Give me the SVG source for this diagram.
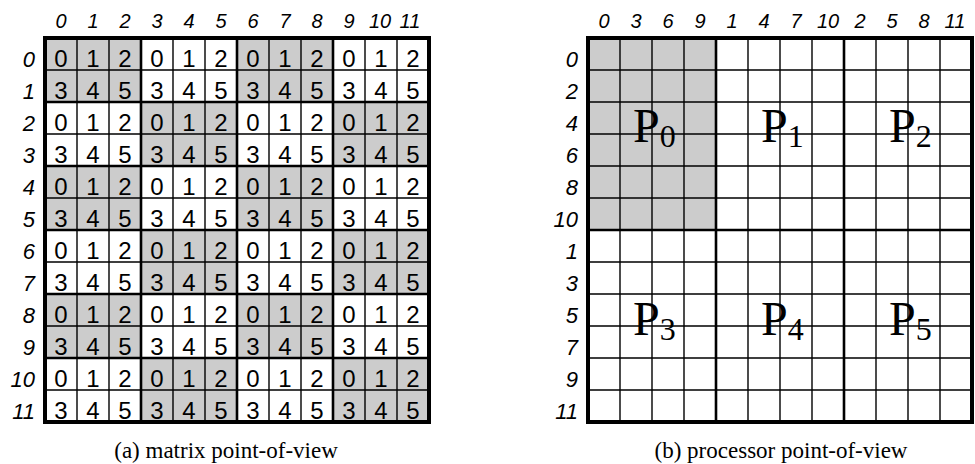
<svg xmlns="http://www.w3.org/2000/svg" width="975" height="464" viewBox="0 0 975 464">
<style>
.bg{fill:#ffffff}
.shade{fill:#cccccc}
.thin{stroke:#000;stroke-width:1.4;fill:none}
.blk{stroke:#000;stroke-width:2.6;fill:none}
.border{stroke:#000;stroke-width:4;fill:none}
.colh{font-family:"Liberation Sans",Arial,sans-serif;font-style:italic;font-size:20px;text-anchor:middle;fill:#000}
.rowh{font-family:"Liberation Sans",Arial,sans-serif;font-style:italic;font-size:22px;text-anchor:end;fill:#000}
.cell{font-family:"Liberation Sans",Arial,sans-serif;font-size:24px;text-anchor:middle;fill:#000}
.proc{font-family:"Liberation Serif","Times New Roman",serif;font-size:48px;fill:#000}
.cap{font-family:"Liberation Serif","Times New Roman",serif;font-size:23px;text-anchor:middle;fill:#000}
</style>
<rect class="bg" x="0" y="0" width="975" height="464"/>

<g id="matrix-view">
  <g id="matrix-shading">
    <rect class="shade" x="45" y="38" width="96" height="64"/>
    <rect class="shade" x="237" y="38" width="96" height="64"/>
    <rect class="shade" x="141" y="102" width="96" height="64"/>
    <rect class="shade" x="333" y="102" width="96" height="64"/>
    <rect class="shade" x="45" y="166" width="96" height="64"/>
    <rect class="shade" x="237" y="166" width="96" height="64"/>
    <rect class="shade" x="141" y="230" width="96" height="64"/>
    <rect class="shade" x="333" y="230" width="96" height="64"/>
    <rect class="shade" x="45" y="294" width="96" height="64"/>
    <rect class="shade" x="237" y="294" width="96" height="64"/>
    <rect class="shade" x="141" y="358" width="96" height="64"/>
    <rect class="shade" x="333" y="358" width="96" height="64"/>
  </g>
  <g id="matrix-lines">
    <path class="thin" d="M77 38V422M109 38V422M173 38V422M205 38V422M269 38V422M301 38V422M365 38V422M397 38V422M45 70H429M45 134H429M45 198H429M45 262H429M45 326H429M45 390H429"/>
    <path class="blk" d="M141 38V422M237 38V422M333 38V422M45 102H429M45 166H429M45 230H429M45 294H429M45 358H429"/>
    <rect class="border" x="45" y="38" width="384" height="384"/>
  </g>
  <g id="matrix-col-labels">
    <text class="colh" x="61" y="28">0</text>
    <text class="colh" x="93" y="28">1</text>
    <text class="colh" x="125" y="28">2</text>
    <text class="colh" x="157" y="28">3</text>
    <text class="colh" x="189" y="28">4</text>
    <text class="colh" x="221" y="28">5</text>
    <text class="colh" x="253" y="28">6</text>
    <text class="colh" x="285" y="28">7</text>
    <text class="colh" x="317" y="28">8</text>
    <text class="colh" x="349" y="28">9</text>
    <text class="colh" x="380" y="28">10</text>
    <text class="colh" x="410" y="28">11</text>
  </g>
  <g id="matrix-row-labels">
    <text class="rowh" x="35" y="67">0</text>
    <text class="rowh" x="35" y="99">1</text>
    <text class="rowh" x="35" y="131">2</text>
    <text class="rowh" x="35" y="163">3</text>
    <text class="rowh" x="35" y="195">4</text>
    <text class="rowh" x="35" y="227">5</text>
    <text class="rowh" x="35" y="259">6</text>
    <text class="rowh" x="35" y="291">7</text>
    <text class="rowh" x="35" y="323">8</text>
    <text class="rowh" x="35" y="355">9</text>
    <text class="rowh" x="35" y="387">10</text>
    <text class="rowh" x="35" y="419">11</text>
  </g>
  <g id="matrix-cells">
    <text class="cell" x="61 93 125 157 189 221 253 285 317 349 381 413" y="67">012012012012</text>
    <text class="cell" x="61 93 125 157 189 221 253 285 317 349 381 413" y="99">345345345345</text>
    <text class="cell" x="61 93 125 157 189 221 253 285 317 349 381 413" y="131">012012012012</text>
    <text class="cell" x="61 93 125 157 189 221 253 285 317 349 381 413" y="163">345345345345</text>
    <text class="cell" x="61 93 125 157 189 221 253 285 317 349 381 413" y="195">012012012012</text>
    <text class="cell" x="61 93 125 157 189 221 253 285 317 349 381 413" y="227">345345345345</text>
    <text class="cell" x="61 93 125 157 189 221 253 285 317 349 381 413" y="259">012012012012</text>
    <text class="cell" x="61 93 125 157 189 221 253 285 317 349 381 413" y="291">345345345345</text>
    <text class="cell" x="61 93 125 157 189 221 253 285 317 349 381 413" y="323">012012012012</text>
    <text class="cell" x="61 93 125 157 189 221 253 285 317 349 381 413" y="355">345345345345</text>
    <text class="cell" x="61 93 125 157 189 221 253 285 317 349 381 413" y="387">012012012012</text>
    <text class="cell" x="61 93 125 157 189 221 253 285 317 349 381 413" y="419">345345345345</text>
  </g>
  <text id="caption-a" class="cap" x="226" y="458">(a) matrix point-of-view</text>
</g>

<g id="processor-view">
  <rect id="p0-shading" class="shade" x="588" y="38" width="128" height="192"/>
  <g id="processor-lines">
    <path class="thin" d="M620 38V422M652 38V422M684 38V422M748 38V422M780 38V422M812 38V422M876 38V422M908 38V422M940 38V422M588 70H972M588 102H972M588 134H972M588 166H972M588 198H972M588 262H972M588 294H972M588 326H972M588 358H972M588 390H972"/>
    <path class="blk" d="M716 38V422M844 38V422M588 230H972"/>
    <rect class="border" x="588" y="38" width="384" height="384"/>
  </g>
  <g id="processor-col-labels">
    <text class="colh" x="604" y="28">0</text>
    <text class="colh" x="636" y="28">3</text>
    <text class="colh" x="668" y="28">6</text>
    <text class="colh" x="700" y="28">9</text>
    <text class="colh" x="732" y="28">1</text>
    <text class="colh" x="764" y="28">4</text>
    <text class="colh" x="796" y="28">7</text>
    <text class="colh" x="828" y="28">10</text>
    <text class="colh" x="860" y="28">2</text>
    <text class="colh" x="892" y="28">5</text>
    <text class="colh" x="924" y="28">8</text>
    <text class="colh" x="955" y="28">11</text>
  </g>
  <g id="processor-row-labels">
    <text class="rowh" x="578" y="67">0</text>
    <text class="rowh" x="578" y="99">2</text>
    <text class="rowh" x="578" y="131">4</text>
    <text class="rowh" x="578" y="163">6</text>
    <text class="rowh" x="578" y="195">8</text>
    <text class="rowh" x="578" y="227">10</text>
    <text class="rowh" x="578" y="259">1</text>
    <text class="rowh" x="578" y="291">3</text>
    <text class="rowh" x="578" y="323">5</text>
    <text class="rowh" x="578" y="355">7</text>
    <text class="rowh" x="578" y="387">9</text>
    <text class="rowh" x="578" y="419">11</text>
  </g>
  <g id="P0"><text class="proc" x="633" y="142">P<tspan font-size="32" dy="5">0</tspan></text></g>
  <g id="P1"><text class="proc" x="761" y="142">P<tspan font-size="32" dy="5">1</tspan></text></g>
  <g id="P2"><text class="proc" x="889" y="142">P<tspan font-size="32" dy="5">2</tspan></text></g>
  <g id="P3"><text class="proc" x="633" y="335">P<tspan font-size="32" dy="5">3</tspan></text></g>
  <g id="P4"><text class="proc" x="761" y="335">P<tspan font-size="32" dy="5">4</tspan></text></g>
  <g id="P5"><text class="proc" x="889" y="335">P<tspan font-size="32" dy="5">5</tspan></text></g>
  <text id="caption-b" class="cap" x="781" y="458">(b) processor point-of-view</text>
</g>
</svg>
